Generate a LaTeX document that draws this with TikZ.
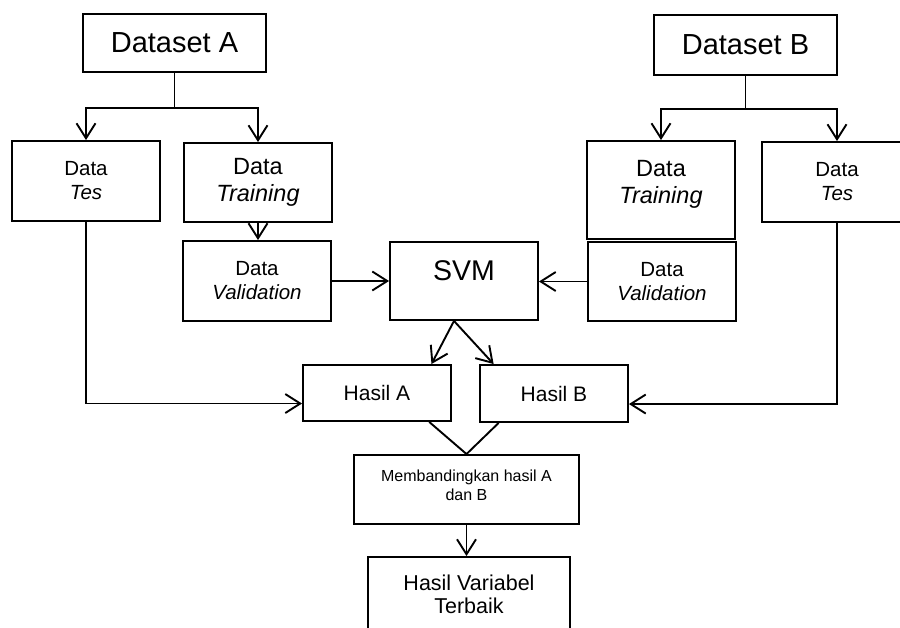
\documentclass[tikz,border=0pt]{standalone}
\usepackage{fontspec}
\setmainfont{Liberation Sans}
\usetikzlibrary{arrows.meta, positioning, calc}

\begin{document}
\begin{tikzpicture}[
  x=1pt, y=-1pt,
  box/.style={draw, line width=1.9pt, minimum width=148pt, align=center, inner sep=0pt},
  dset/.style={box, minimum width=183pt, font=\fontsize{29}{35}\selectfont},
  small/.style={box, font=\fontsize{20.5}{24}\selectfont},
  train/.style={box, font=\fontsize{23.5}{27}\selectfont},
  hasil/.style={box, font=\fontsize{21}{23}\selectfont},
  note/.style={box, font=\fontsize{16}{19}\selectfont},
  link/.style={line width=1.9pt},
  arr/.style={link, -{Straight Barb[length=15pt, width=19pt]}}
]
  \useasboundingbox (0,0) rectangle (900,627);
  \clip (0,0) rectangle (900,627);

  \node[dset, minimum height=58pt] (dsA) at (174.5,43) {Dataset A};
  \node[dset, minimum height=60pt] (dsB) at (745.5,45) {Dataset B};

  \node[small, minimum height=80pt] (tesA)  at (86,181)    {Data\\\textit{Tes}};
  \node[train, minimum height=79pt] (trA)   at (258,182.5) {Data\\\textit{Training}};
  \node[small, minimum height=80pt] (valA)  at (257,281)   {Data\\\textit{Validation}};
  \node[box, font=\fontsize{28.5}{34}\selectfont, text height=38pt, text depth=40pt]
    (svm) at (464,281) {SVM};
  \node[small, minimum height=79pt] (valB)  at (662,281.5) {Data\\\textit{Validation}};
  \node[train, text height=62pt, text depth=36pt] (trB) at (661,190) {Data\\\textit{Training}};
  \node[small, minimum width=150pt, minimum height=80pt] (tesB) at (837,182) {Data\\\textit{Tes}};

  \node[hasil, minimum height=56pt] (hasA) at (377,393)   {Hasil A};
  \node[hasil, minimum height=57pt] (hasB) at (554,393.5) {Hasil B};
  \node[note, minimum width=225pt, text height=45pt, text depth=24pt]
    (cmp) at (466.5,489.5) {Membandingkan hasil A\\dan B};
  \node[hasil, font=\fontsize{21.5}{23}\selectfont, minimum width=202pt,
        text height=56pt, text depth=47pt]
    (best) at (469,608.5) {Hasil Variabel\\Terbaik};

  % split of each dataset
  \draw[arr] (dsA.south) -- ++(0,35) -| (tesA.north);
  \draw[arr] (dsA.south) -- ++(0,35) -| (trA.north);
  \draw[arr] (dsB.south) -- ++(0,33) -| (trB.north);
  \draw[arr] (dsB.south) -- ++(0,33) -| (tesB.north);

  \draw[arr] (trA.south) -- (trA.south |- valA.north);
  \draw[arr] (valA.east) -- (svm.west);
  \draw[arr] (valB.west) -- (valB.west -| svm.east);

  \draw[arr] ([xshift=-10pt]svm.south) -- (hasA.28);
  \draw[arr] ([xshift=-10pt]svm.south) -- (hasB.154);
  \draw[arr] (tesA.south) |- (hasA.188);
  \draw[arr] (tesB.south) |- (hasB.352);

  \draw[link] (hasA.331) -- (cmp.north) -- (hasB.208);
  \draw[arr] (cmp.south) -- (cmp.south |- best.north);
\end{tikzpicture}
\end{document}
